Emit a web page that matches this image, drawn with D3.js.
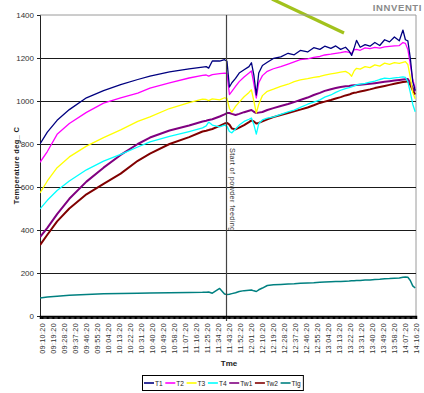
<!DOCTYPE html>
<html>
<head>
<meta charset="utf-8">
<script src="https://cdnjs.cloudflare.com/ajax/libs/d3/7.8.5/d3.min.js"></script>
<style>
  html, body { margin: 0; padding: 0; background: #fff; }
  svg { display: block; font-family: "Liberation Sans", Arial, sans-serif; }
</style>
</head>
<body>
<svg id="chart" width="424" height="393"></svg>
<script>
// Sample times (hh:mm:ss)
const times = [
  "09:10:20","09:16:20","09:24:20","09:34:20","09:48:20","10:02:20","10:16:20","10:30:20","10:40:20","10:56:20",
  "11:12:20","11:23:20","11:26:20","11:28:20","11:31:20","11:37:20","11:41:20","11:43:20","11:45:20","11:47:20",
  "11:50:20","11:53:20","11:57:20","12:01:20","12:03:20","12:05:20","12:07:20","12:09:20","12:12:20","12:16:20",
  "12:21:20","12:27:20","12:33:20","12:38:20","12:43:20","12:49:20","12:54:20","12:59:20","13:03:20","13:08:20",
  "13:12:20","13:16:20","13:20:20","13:23:20","13:25:20","13:27:20","13:29:20","13:32:20","13:36:20","13:40:20",
  "13:44:20","13:48:20","13:52:20","13:56:20","14:00:20","14:04:20","14:07:20","14:09:20","14:11:20","14:13:20",
  "14:15:20","14:17:20"
];

// Temperatures, deg C
const T1 = [
  800, 855, 910, 960, 1015, 1048, 1076, 1100, 1116, 1135,
  1149, 1158, 1160, 1153, 1186, 1186, 1192, 1185, 1065, 1085,
  1105, 1130, 1145, 1160, 1178, 1120, 1028, 1130, 1165, 1180,
  1198, 1205, 1222, 1215, 1235, 1228, 1248, 1240, 1255, 1245,
  1256, 1240, 1250, 1232, 1212, 1245, 1282, 1250, 1262, 1255,
  1272, 1258, 1285, 1275, 1298, 1280, 1330, 1285, 1280, 1200,
  1090, 1050
];
const T2 = [
  715, 765, 845, 895, 947, 990, 1014, 1037, 1060, 1084,
  1107, 1119, 1121, 1116, 1123, 1127, 1130, 1128, 1030, 1045,
  1068, 1090, 1112, 1130, 1140, 1080, 1014, 1085, 1118, 1138,
  1150, 1160, 1172, 1182, 1192, 1196, 1203, 1207, 1214, 1218,
  1222, 1225, 1230, 1226, 1222, 1238, 1240, 1236, 1247, 1244,
  1249, 1246, 1252, 1254, 1256, 1258, 1272, 1268, 1240, 1170,
  1100, 1060
];
const T3 = [
  572, 628, 690, 740, 790, 830, 866, 905, 926, 965,
  993, 1009, 1007, 1002, 1010, 1005, 1015, 1012, 965, 948,
  975, 995, 1020, 1040, 1052, 1000, 944, 985, 1025, 1045,
  1055, 1068, 1078, 1090, 1098, 1104, 1110, 1114, 1120, 1126,
  1130, 1134, 1138, 1128, 1115, 1140, 1152, 1148, 1160, 1155,
  1168, 1162, 1176, 1170, 1178, 1175, 1180, 1183, 1170, 1110,
  1040, 1010
];
const T4 = [
  498, 538, 584, 628, 680, 720, 752, 786, 810, 835,
  858, 875, 884, 902, 888, 880, 888, 882, 858, 852,
  870, 888, 905, 915, 921, 890, 846, 895, 912, 920,
  926, 938, 949, 958, 970, 985, 995, 1005, 1018, 1028,
  1040, 1050, 1058, 1062, 1066, 1070, 1075, 1078, 1082, 1088,
  1092, 1100, 1106, 1104, 1108, 1110, 1112, 1110, 1090, 1040,
  985, 950
];
const Tw1 = [
  367, 410, 474, 545, 625, 690, 749, 800, 830, 863,
  886, 905, 908, 912, 915, 928, 938, 944, 944, 940,
  935, 940, 948, 955, 958, 950, 944, 946, 949, 958,
  967, 977, 986, 995, 1005, 1016, 1028, 1038, 1047, 1055,
  1060, 1065, 1069, 1070, 1072, 1073, 1074, 1076, 1078, 1080,
  1083, 1086, 1089, 1092, 1095, 1098, 1100, 1101, 1102, 1085,
  1060, 1045
];
const Tw2 = [
  330, 378, 440, 500, 566, 615, 662, 722, 755, 800,
  832, 858, 862, 865, 870, 884, 895, 898, 890, 872,
  868, 876, 888, 902, 910, 905, 895, 898, 905, 915,
  925, 935, 944, 952, 960, 970, 980, 991, 997, 1005,
  1012, 1018, 1026, 1030, 1035, 1038, 1040, 1044, 1049, 1054,
  1060, 1065, 1070, 1075, 1080, 1085, 1088, 1090, 1092, 1075,
  1050, 1030
];
const Tlg = [
  84, 88, 92, 96, 100, 103, 105, 106, 107, 108,
  109, 110, 111, 112, 106, 128, 102, 100, 101, 104,
  108, 114, 118, 120, 121, 117, 114, 122, 130, 142,
  145, 147, 149, 150, 152, 154, 155, 157, 158, 159,
  160, 161, 162, 163, 164, 164, 165, 165, 167, 168,
  170, 171, 173, 174, 176, 177, 180, 181, 180, 165,
  140, 130
];

const seriesNames = ["T1", "T2", "T3", "T4", "Tw1", "Tw2", "Tlg"];
const seriesValues = [T1, T2, T3, T4, Tw1, Tw2, Tlg];
const seriesColors = ["#000080", "#ff00ff", "#ffff00", "#00ffff", "#800080", "#800000", "#008080"];
const seriesWidths = [1.3, 1.3, 1.3, 1.3, 2, 2, 1.5];

const yTicks = [0, 200, 400, 600, 800, 1000, 1200, 1400];
const xTickLabels = [
  "09:10:20","09:19:20","09:28:20","09:37:20","09:46:20","09:55:20","10:04:20","10:13:20","10:22:20",
  "10:31:20","10:40:20","10:49:20","10:58:20","11:07:20","11:16:20","11:25:20","11:34:20","11:43:20",
  "11:52:20","12:01:20","12:10:20","12:19:20","12:28:20","12:37:20","12:46:20","12:55:20","13:04:20",
  "13:13:20","13:22:20","13:31:20","13:40:20","13:49:20","13:58:20","14:07:20","14:16:20"
];
const feedStart = "11:43:20";
const feedLabel = "Start of powder feeding";

const parse = d3.timeParse("%H:%M:%S");
const svg = d3.select("#chart");
const plotLeft = 40, plotRight = 416, plotTop = 15, plotBottom = 316;

const x = d3.scaleTime()
  .domain([parse("09:10:20"), parse("14:18:00")])
  .range([plotLeft, plotRight]);
const y = d3.scaleLinear().domain([0, 1400]).range([plotBottom, plotTop]);

// Brand strip
svg.append("line")
  .attr("x1", 272).attr("y1", -1).attr("x2", 344).attr("y2", 33)
  .attr("stroke", "#a2c21c").attr("stroke-width", 3.2);
svg.append("text")
  .attr("x", 422).attr("y", 11)
  .attr("text-anchor", "end")
  .attr("font-size", 9.5).attr("font-weight", "bold")
  .attr("letter-spacing", 0.6)
  .attr("fill", "#8a8a8a")
  .text("INNVENTI");

// Plot frame (top and right)
svg.append("path")
  .attr("d", `M${plotLeft},${plotTop}H${plotRight}V${plotBottom}`)
  .attr("fill", "none").attr("stroke", "#9a9a9a").attr("stroke-width", 1);

// Horizontal gridlines
svg.append("g")
  .selectAll("line")
  .data(yTicks.filter(v => v > 0 && v < 1400))
  .join("line")
  .attr("x1", plotLeft).attr("x2", plotRight)
  .attr("y1", d => Math.round(y(d)) + 0.5).attr("y2", d => Math.round(y(d)) + 0.5)
  .attr("stroke", "#1a1a1a").attr("stroke-width", 1);

// Y axis
const yAxis = svg.append("g")
  .attr("transform", `translate(${plotLeft},0)`)
  .call(d3.axisLeft(y).tickValues(yTicks).tickSize(3).tickPadding(3).tickFormat(d3.format("d")));
yAxis.select(".domain").attr("stroke", "#222");
yAxis.selectAll(".tick line").attr("stroke", "#222");
yAxis.selectAll(".tick text")
  .attr("font-size", 8).attr("fill", "#333")
  .attr("font-family", "'Liberation Sans', Arial, sans-serif");

svg.append("text")
  .attr("transform", `translate(19,${(125 + 206) / 2}) rotate(-90)`)
  .attr("text-anchor", "middle")
  .attr("font-size", 7.5).attr("font-weight", "bold")
  .attr("letter-spacing", 0.3)
  .attr("fill", "#222")
  .text("Temperature deg_ C");

// Series lines
svg.append("clipPath").attr("id", "plotClip")
  .append("rect").attr("x", plotLeft).attr("y", plotTop - 2)
  .attr("width", plotRight - plotLeft).attr("height", plotBottom - plotTop + 2);
const plot = svg.append("g").attr("clip-path", "url(#plotClip)");

const line = d3.line()
  .x((d, i) => x(parse(times[i])))
  .y(d => y(d));

// Draw the wall/gas series first so the probe temperatures sit on top
const order = [6, 5, 4, 3, 2, 1, 0];
order.forEach(k => {
  plot.append("path")
    .datum(seriesValues[k])
    .attr("fill", "none")
    .attr("stroke", seriesColors[k])
    .attr("stroke-width", seriesWidths[k])
    .attr("stroke-linejoin", "round")
    .attr("d", line);
});

// Powder feeding marker
const fx = Math.round(x(parse(feedStart))) - 0.5;
svg.append("line")
  .attr("x1", fx).attr("x2", fx)
  .attr("y1", plotTop).attr("y2", plotBottom + 5)
  .attr("stroke", "#444").attr("stroke-width", 1.2);
svg.append("text")
  .attr("transform", `translate(${fx + 3},148) rotate(90)`)
  .attr("font-size", 7.2).attr("fill", "#333")
  .attr("letter-spacing", 0.4)
  .text(feedLabel);

// X axis: dense minute ticks form a solid band
const minuteTicks = d3.timeMinute.every(1).range(parse("09:10:20"), parse("14:18:00"));
const xAxis = svg.append("g")
  .attr("transform", `translate(0,${plotBottom})`)
  .call(d3.axisBottom(x).tickValues(minuteTicks).tickSize(3).tickFormat(""));
xAxis.select(".domain").attr("stroke", "#000").attr("stroke-width", 1.5);
xAxis.selectAll(".tick line").attr("stroke", "#000").attr("stroke-width", 1.2);

// X tick labels, rotated
svg.append("g")
  .selectAll("text")
  .data(xTickLabels)
  .join("text")
  .attr("transform", d => `translate(${x(parse(d)) + 2},323) rotate(-90)`)
  .attr("text-anchor", "end")
  .attr("dy", "0.35em")
  .attr("font-size", 7.3).attr("fill", "#333")
  .attr("letter-spacing", 0.3)
  .text(d => d);

svg.append("text")
  .attr("x", 229).attr("y", 366)
  .attr("text-anchor", "middle")
  .attr("font-size", 8).attr("font-weight", "bold")
  .attr("fill", "#222")
  .text("Tme");

// Legend
const legend = svg.append("g");
const lgBox = legend.append("rect")
  .attr("x", 142.5).attr("y", 375.5).attr("height", 15)
  .attr("fill", "#fff").attr("stroke", "#000").attr("stroke-width", 1);
let lx = 144;
seriesNames.forEach((name, k) => {
  legend.append("line")
    .attr("x1", lx).attr("x2", lx + 10)
    .attr("y1", 383).attr("y2", 383)
    .attr("stroke", seriesColors[k]).attr("stroke-width", 1.6);
  const t = legend.append("text")
    .attr("x", lx + 11).attr("y", 385.6)
    .attr("font-size", 6.6).attr("fill", "#222")
    .text(name);
  lx += 11 + t.node().getComputedTextLength() + 2.6;
});
lgBox.attr("width", lx - 142.5);
</script>
</body>
</html>
